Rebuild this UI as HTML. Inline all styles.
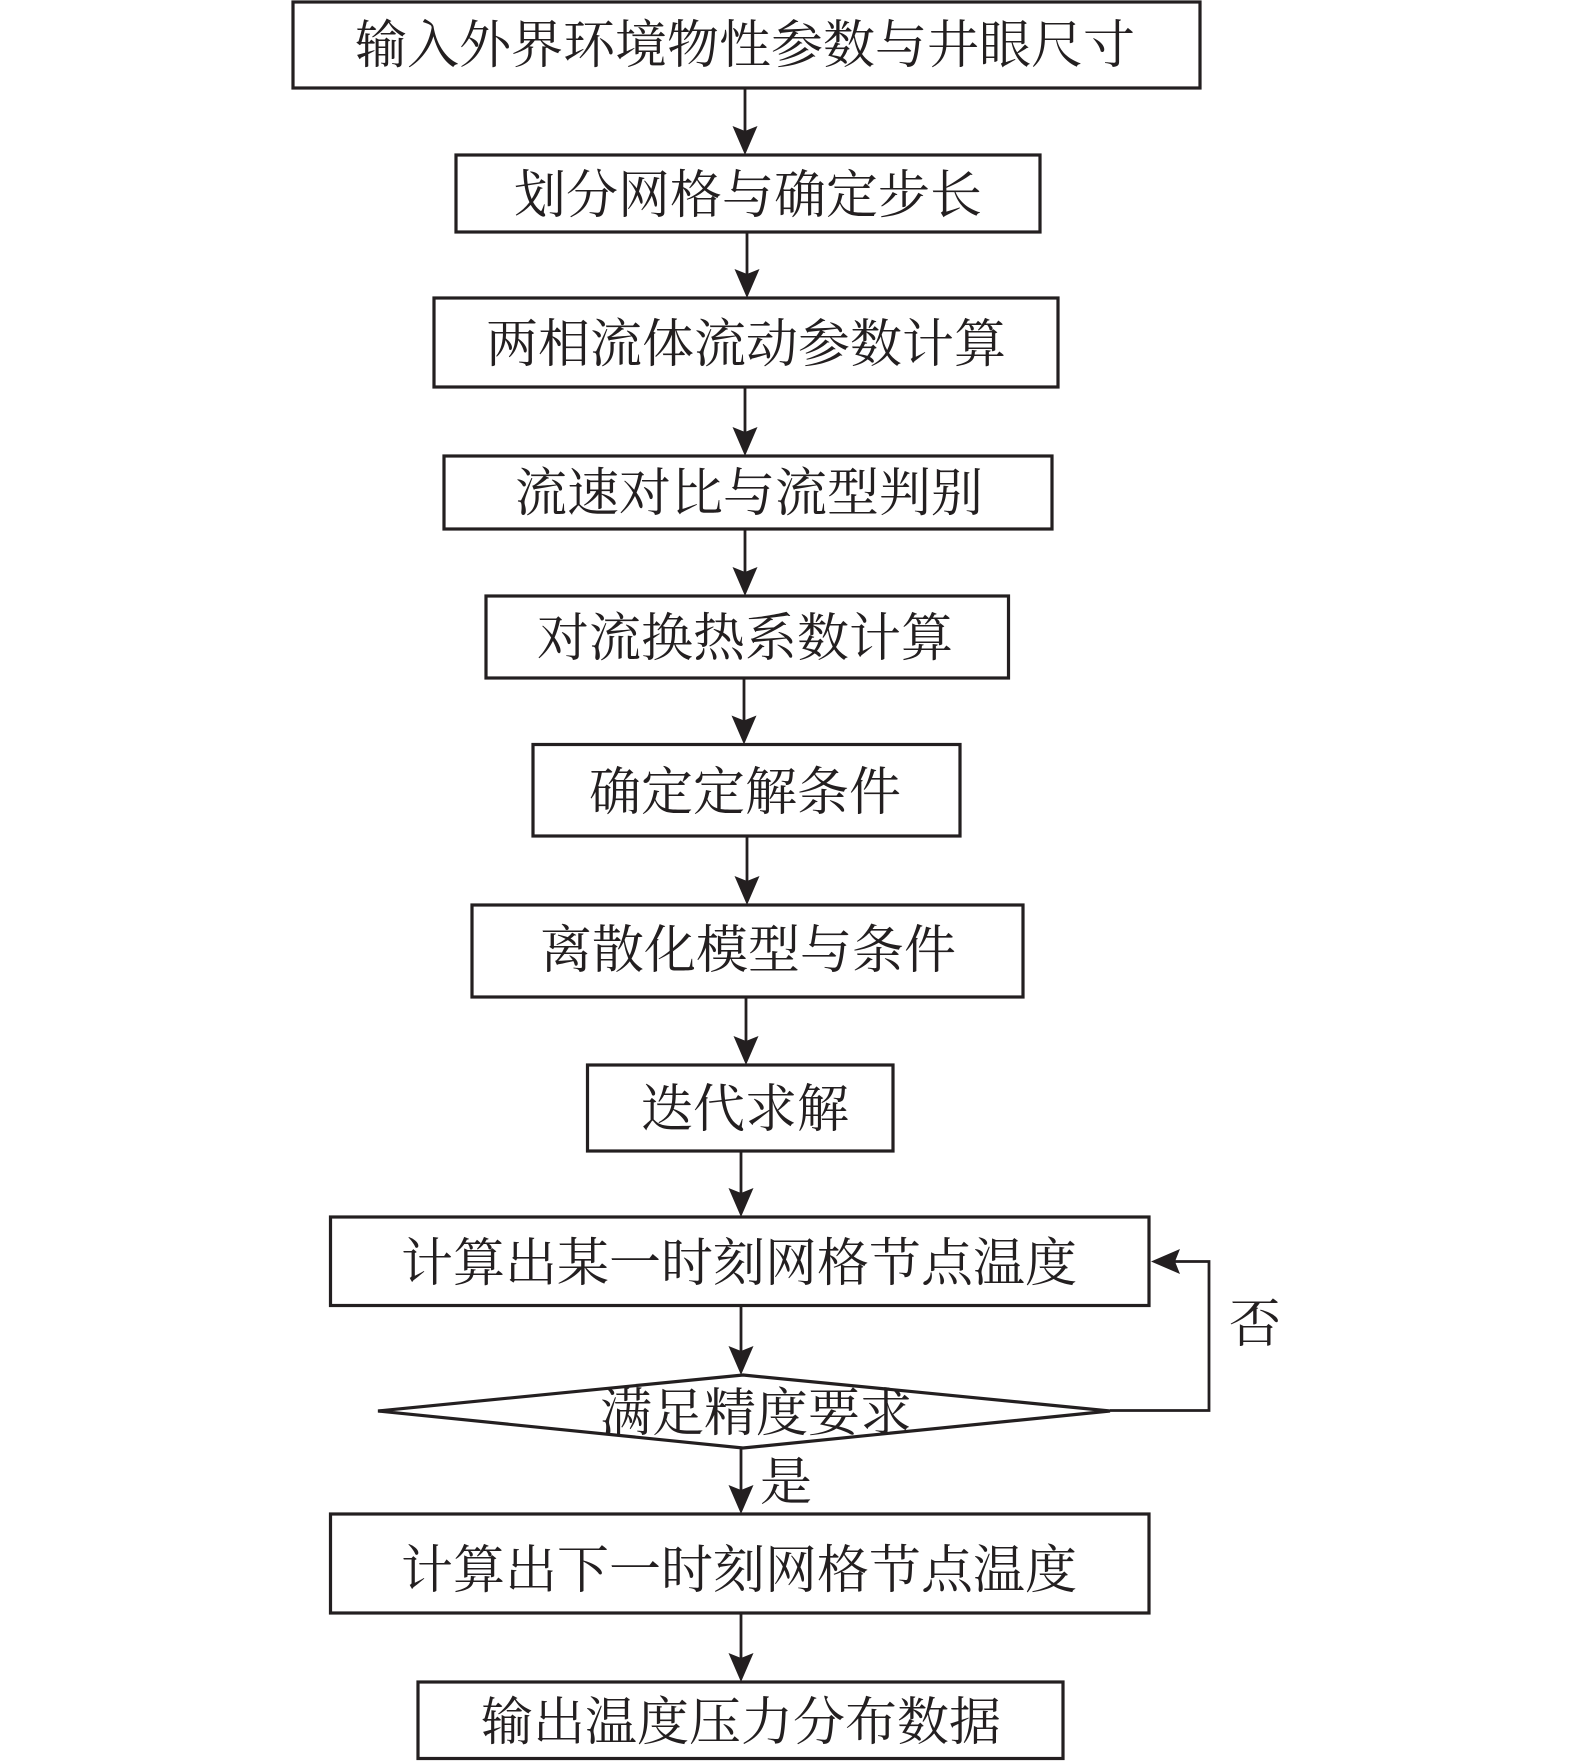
<!DOCTYPE html>
<html>
<head>
<meta charset="utf-8">
<style>
  html, body { margin:0; padding:0; background:#fff; }
  svg { display:block; }
  text { font-family: "Liberation Serif", "Noto Serif CJK SC", "Noto Sans CJK SC", serif; font-size:52px; fill:#231f20; text-anchor:middle; }
</style>
</head>
<body>
<svg width="1575" height="1761" viewBox="0 0 1575 1761" xmlns="http://www.w3.org/2000/svg">
  <rect width="1575" height="1761" fill="#fff"/>
  <g fill="none" stroke="#231f20" stroke-width="3.2">
    <rect x="293" y="2" width="907" height="86"/>
    <rect x="456" y="155" width="584" height="77"/>
    <rect x="434" y="298" width="624" height="89"/>
    <rect x="444" y="456" width="608" height="73"/>
    <rect x="486" y="596" width="522.5" height="82"/>
    <rect x="533" y="744.5" width="427" height="91.5"/>
    <rect x="472" y="905" width="551" height="92"/>
    <rect x="587.5" y="1065" width="305.5" height="86"/>
    <rect x="330.5" y="1217" width="818.5" height="88.5"/>
    <polygon points="743,1375 1110,1411 743,1448 378,1411"/>
    <rect x="330.5" y="1514" width="818.5" height="99"/>
    <rect x="418" y="1682" width="645" height="76.5"/>
  </g>
  <g fill="none" stroke="#231f20" stroke-width="2.8">
    <line x1="745" y1="88" x2="745" y2="140"/>
    <line x1="747" y1="232" x2="747" y2="283"/>
    <line x1="745" y1="387" x2="745" y2="441"/>
    <line x1="745" y1="529" x2="745" y2="581"/>
    <line x1="744" y1="678" x2="744" y2="730"/>
    <line x1="747" y1="836" x2="747" y2="890"/>
    <line x1="746" y1="997" x2="746" y2="1050"/>
    <line x1="741" y1="1151" x2="741" y2="1202"/>
    <line x1="741" y1="1305.5" x2="741" y2="1360"/>
    <line x1="741" y1="1448" x2="741" y2="1499"/>
    <line x1="741" y1="1613" x2="741" y2="1667"/>
    <polyline points="1110,1410.5 1209,1410.5 1209,1261.5 1168,1261.5"/>
  </g>
  <g fill="#231f20">
    <polygon points="745,155 732.5,126 745,131 757.5,126"/>
    <polygon points="747,298 734.5,269 747,274 759.5,269"/>
    <polygon points="745,456 732.5,427 745,432 757.5,427"/>
    <polygon points="745,596 732.5,567 745,572 757.5,567"/>
    <polygon points="744,744.5 731.5,715.5 744,720.5 756.5,715.5"/>
    <polygon points="747,905 734.5,876 747,881 759.5,876"/>
    <polygon points="746,1065 733.5,1036 746,1041 758.5,1036"/>
    <polygon points="741,1217 728.5,1188 741,1193 753.5,1188"/>
    <polygon points="741,1375 728.5,1346 741,1351 753.5,1346"/>
    <polygon points="741,1514 728.5,1485 741,1490 753.5,1485"/>
    <polygon points="741,1682 728.5,1653 741,1658 753.5,1653"/>
    <polygon points="1151,1261.5 1180,1249 1175,1261.5 1180,1274"/>
  </g>
  <text x="745" y="63">输入外界环境物性参数与井眼尺寸</text>
  <text x="748" y="213">划分网格与确定步长</text>
  <text x="746" y="362">两相流体流动参数计算</text>
  <text x="749" y="511">流速对比与流型判别</text>
  <text x="745" y="656">对流换热系数计算</text>
  <text x="745" y="810">确定定解条件</text>
  <text x="748" y="968">离散化模型与条件</text>
  <text x="745" y="1127">迭代求解</text>
  <text x="739" y="1281">计算出某一时刻网格节点温度</text>
  <text x="756" y="1431">满足精度要求</text>
  <text x="786" y="1500">是</text>
  <text x="1255" y="1342">否</text>
  <text x="739" y="1588">计算出下一时刻网格节点温度</text>
  <text x="741" y="1740">输出温度压力分布数据</text>
</svg>
</body>
</html>
